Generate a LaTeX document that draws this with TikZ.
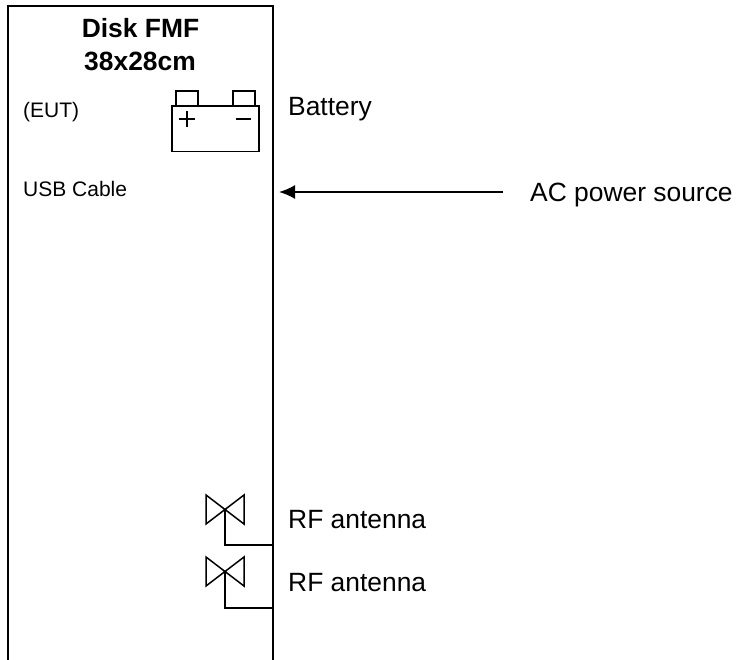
\documentclass[tikz,border=0pt]{standalone}
\usepackage{fontspec}
\setmainfont{Liberation Sans}
\usetikzlibrary{arrows.meta}
\tikzset{
  line/.style={draw=black,line width=1.8pt},
  thin line/.style={draw=black,line width=1.5pt},
  big/.style={font=\fontsize{26.4}{32}\selectfont,anchor=base west,inner sep=0pt},
  small/.style={font=\fontsize{21}{25}\selectfont,anchor=base west,inner sep=0pt},
  title/.style={font=\fontsize{26.4}{32}\selectfont\bfseries,anchor=base,inner sep=0pt}
}
\begin{document}
\begin{tikzpicture}[x=1pt,y=-1pt]
\useasboundingbox (0,0) rectangle (738,660);
\fill[white] (0,0) rectangle (738,660);
% disk outline
\coordinate (bl) at (8,660);
\coordinate (tl) at (8,6);
\coordinate (tr) at (272.7,6);
\coordinate (br) at (272.7,660);
\draw[line,line width=2pt] (bl) -- (tl) -- (tr) -- (br);
\node[title] (ttl) at (140.5,38) {Disk FMF};
\node[title] (ttlb) at (140,70.5) {38x28cm};
\node[small] (eut) at (23,118) {(EUT)};
\node[small] (usb) at (23,197) {USB Cable};
\node[big] (bat) at (288,116) {Battery};
\node[big] (ac) at (530,201.5) {AC power source};
\node[big] (rf1) at (288,528) {RF antenna};
\node[big] (rf2) at (288,591) {RF antenna};
% battery
\draw[thin line] (172,106) rectangle (259,151.5);
\draw[thin line] (176,106) -- (176,91) -- (198,91) -- (198,106);
\draw[thin line] (233,106) -- (233,91) -- (255,91) -- (255,106);
\draw[thin line] (179,119) -- (195,119) (187,111) -- (187,127);
\draw[thin line] (236,119) -- (251,119);
% arrow
\coordinate (acend) at (503,192);
\coordinate (acbox) at (279,192);
\draw[line,-{Latex[length=16pt,width=14pt]}] (acend) -- (acbox);
% antennas
\draw[thin line] (206,495) -- (244,524) -- (244,495) -- (206,524) -- cycle;
\draw[thin line] (225,509) -- (225,545) -- (272.7,545);
\draw[thin line] (206,557) -- (244,586) -- (244,557) -- (206,586) -- cycle;
\draw[thin line] (225,571.5) -- (225,608) -- (272.7,608);
\end{tikzpicture}
\end{document}
